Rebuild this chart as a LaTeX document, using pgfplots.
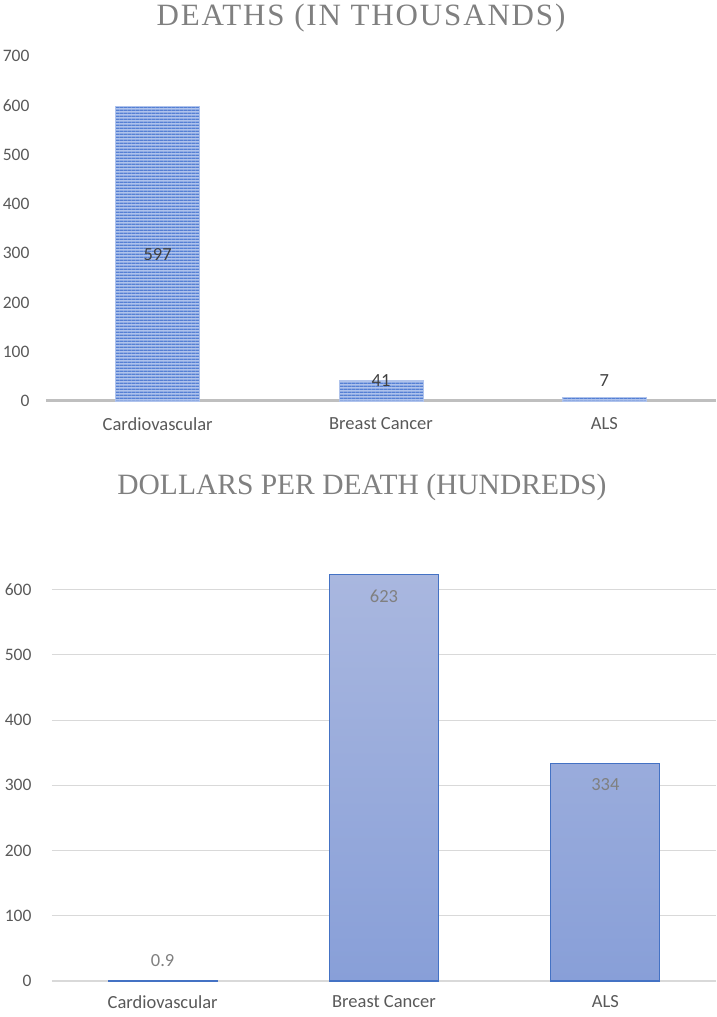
\documentclass[border=0pt]{standalone}
\usepackage{fontspec}
\setmainfont{Carlito}
\newfontfamily\titlefont{Liberation Serif}
\usepackage{pgfplots}
\pgfplotsset{compat=1.18}
\usetikzlibrary{patterns.meta}
\definecolor{tickgray}{HTML}{595959}
\definecolor{titlegray}{HTML}{808080}
\definecolor{axgray}{HTML}{BFBFBF}
\definecolor{gridgray}{HTML}{D9D9D9}
\definecolor{stripedark}{HTML}{5580D4}
\definecolor{stripelight}{HTML}{AFC3EC}
\definecolor{edgeblue}{HTML}{4472C4}
\definecolor{gradtop}{HTML}{A9B7DF}
\definecolor{gradbot}{HTML}{889FD8}
\pgfdeclarepattern{name=hstripes, type=uncolored,
  bottom left={\pgfpoint{0pt}{0pt}}, top right={\pgfpoint{4pt}{3.4pt}},
  tile size={\pgfpoint{4pt}{3.4pt}},
  code={\pgfpathrectangle{\pgfpoint{-0.5pt}{0pt}}{\pgfpoint{5pt}{1.7pt}}\pgfusepath{fill}}}
\pgfplotstableread{
x y
0 597
1 41
2 7
}\deaths
\pgfplotstableread{
x y lab
0 298 597
1 41 41
2 41 7
}\deathslab
\pgfplotstableread{
x y
0 0.9
1 623
2 334
}\dollars
\pgfplotstableread{
x y lab
0 31 0.9
1 589 623
2 301 334
}\dollarslab
\begin{document}
\begin{tikzpicture}
\path[use as bounding box] (0pt,0pt) rectangle (716pt,1017pt);
\pgfplotsset{
  common/.style={
    scale only axis,
    xmin=-0.5, xmax=2.5, ymin=0,
    xtick=data,
    xticklabels={Cardiovascular,Breast Cancer,ALS},
    axis x line*=bottom, axis y line*=left,
    y axis line style={draw=none},
    major tick length=0pt,
    tick label style={font=\fontsize{18.5}{22}\selectfont, text=tickgray},
    /pgf/number format/assume math mode=true,
    clip=false,
  }
}
% Top chart
\begin{axis}[common,
  at={(46pt,616pt)}, anchor=south west,
  width=670pt, height=345pt,
  ymax=700, ytick={0,100,...,700},
  x axis line style={axgray, line width=3pt},
  yticklabel style={anchor=east, xshift=-13pt, font=\fontsize{17.5}{21}\selectfont},
  xticklabel style={anchor=north, yshift=-13pt},
]
\addplot[ybar, bar width=84pt, draw=stripelight, line width=0.6pt,
  fill=stripelight, postaction={pattern={hstripes}, pattern color=stripedark}]
  table[x=x,y=y] {\deaths};
\addplot[draw=none, mark=none, nodes near coords, point meta=explicit symbolic,
  every node near coord/.style={anchor=center, font=\fontsize{18.5}{22}\selectfont, text=black!75}]
  table[x=x,y=y,meta=lab] {\deathslab};
\end{axis}
\node[font=\titlefont\fontsize{31}{35}\selectfont\addfontfeature{LetterSpace=6}, text=titlegray] at (361pt,999pt) {DEATHS (IN THOUSANDS)};
% Bottom chart
\begin{axis}[common,
  at={(52pt,36pt)}, anchor=south west,
  width=664pt, height=424pt,
  ymax=650, ytick={0,100,...,600},
  ymajorgrids, grid style={gridgray, line width=1pt},
  x axis line style={gridgray, line width=2pt},
  yticklabel style={anchor=east, xshift=-17pt, font=\fontsize{17.5}{21}\selectfont},
  xticklabel style={anchor=north, yshift=-11pt},
]
\addplot[ybar, bar width=109pt, draw=edgeblue, line width=1.2pt,
  top color=gradtop, bottom color=gradbot]
  table[x=x,y=y] {\dollars};
\addplot[draw=none, mark=none, nodes near coords, point meta=explicit symbolic,
  every node near coord/.style={anchor=center, font=\fontsize{18.5}{22}\selectfont, text=titlegray}]
  table[x=x,y=y,meta=lab] {\dollarslab};
\end{axis}
\node[font=\titlefont\fontsize{29.5}{34}\selectfont, text=titlegray] at (362pt,530pt) {DOLLARS PER DEATH (HUNDREDS)};
\end{tikzpicture}
\end{document}
